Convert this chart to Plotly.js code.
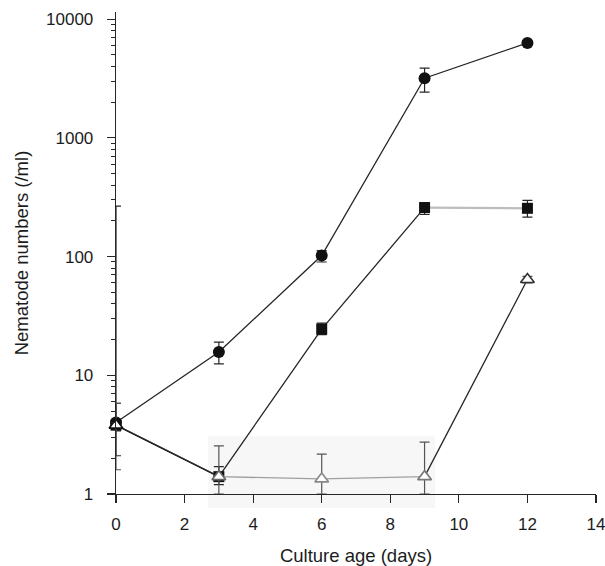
<!DOCTYPE html>
<html>
<head>
<meta charset="utf-8">
<script src="https://cdn.plot.ly/plotly-3.0.1.min.js"></script>
<style>html,body{margin:0;padding:0;background:#fff;}#chart{width:605px;height:566px;}</style>
</head>
<body>
<div id="chart"></div>
<script>
// Culture age (days)
const days = [0, 3, 6, 9, 12];

// Filled circles
const circleY = [4.0, 15.7, 102, 3180, 6300];
const circleErrPlus = [1.8, 3.3, 10, 690, 300];
const circleErrMinus = [1.9, 3.2, 12, 750, 300];

// Filled squares
const squareY = [3.8, 1.4, 24.5, 258, 255];
const squareErrPlus = [262, 0.3, 3, 27, 42];
const squareErrMinus = [0.4, 0.2, 2.5, 32, 40];

// Open triangles
const triY = [3.8, 1.4, 1.34, 1.4, 64];
const triErrPlus = [2.0, 1.14, 0.83, 1.34, 4];
const triErrMinus = [2.2, 0.4, 0.34, 0.4, 4];
const triEdge = ['#111', '#666', '#8a8a8a', '#777', '#333'];

// Axis ticks
const yTickVals = [1, 10, 100, 1000, 10000];
const yTickText = ['1', '10', '100', '1000', '10000'];
const xTickVals = [0, 2, 4, 6, 8, 10, 12, 14];

const yMinor = [];
for (let d = 1; d < 10000; d *= 10) { for (let k = 2; k <= 9; k++) yMinor.push(k * d); }

const FONT = 'Liberation Sans, Arial, Helvetica, sans-serif';
const INK = '#1c1c1c';
const LINE = '#262626';

const traces = [
  // circles
  {x: days, y: circleY, mode: 'lines+markers', cliponaxis: false,
   line: {color: LINE, width: 1.3},
   marker: {symbol: 'circle', size: 12, color: '#111'},
   error_y: {type: 'data', symmetric: false, array: circleErrPlus, arrayminus: circleErrMinus,
             color: LINE, thickness: 1.2, width: 5}},
  // squares: dark segments
  {x: days.slice(0, 4), y: squareY.slice(0, 4), mode: 'lines', cliponaxis: false,
   line: {color: LINE, width: 1.3}},
  // squares: pale segment
  {x: days.slice(3), y: squareY.slice(3), mode: 'lines', cliponaxis: false,
   line: {color: '#bdbdbd', width: 2.2}},
  // squares: markers
  {x: days, y: squareY, mode: 'markers', cliponaxis: false,
   marker: {symbol: 'square', size: 11, color: '#111'},
   error_y: {type: 'data', symmetric: false, array: squareErrPlus, arrayminus: squareErrMinus,
             color: LINE, thickness: 1.2, width: 5}},
  // triangles: dark segments
  {x: [...days.slice(0, 2), null, ...days.slice(3)], y: [...triY.slice(0, 2), null, ...triY.slice(3)],
   mode: 'lines', connectgaps: false, cliponaxis: false,
   line: {color: LINE, width: 1.3}},
  // triangles: grey segments
  {x: days.slice(1, 4), y: triY.slice(1, 4), mode: 'lines', cliponaxis: false,
   line: {color: '#a0a0a0', width: 1.4}},
  // triangles: markers
  {x: days, y: triY, mode: 'markers', cliponaxis: false,
   marker: {symbol: 'triangle-up', size: 12, color: '#ffffff', line: {color: triEdge, width: 1.6}},
   error_y: {type: 'data', symmetric: false, array: triErrPlus, arrayminus: triErrMinus,
             color: '#555', thickness: 1.2, width: 5}}
];

const layout = {
  width: 605, height: 566,
  margin: {l: 116, r: 9, t: 12, b: 72, pad: 0},
  paper_bgcolor: '#ffffff', plot_bgcolor: '#ffffff',
  showlegend: false,
  font: {family: FONT, color: INK, size: 17},
  shapes: [
    {type: 'rect', xref: 'paper', yref: 'paper', x0: 0.192, x1: 0.665, y0: -0.029, y1: 0.12,
     fillcolor: '#f7f7f7', line: {width: 0}, layer: 'below'}
  ],
  xaxis: {
    range: [0, 14], tickvals: xTickVals, ticks: 'outside', ticklen: 8, tickwidth: 1.2, tickcolor: LINE,
    showline: true, linecolor: LINE, linewidth: 1.3, showgrid: false, zeroline: false,
    tickfont: {family: FONT, size: 17, color: INK}, ticklabelstandoff: 6, ticklabeloverflow: 'allow',
    title: {text: 'Culture age (days)', font: {family: FONT, size: 18.5, color: INK}, standoff: 19},
    automargin: false, fixedrange: true
  },
  yaxis: {
    type: 'log', range: [0, 4.06], tickvals: yTickVals, ticktext: yTickText,
    ticks: 'outside', ticklen: 8, tickwidth: 1.2, tickcolor: LINE,
    minor: {tickvals: yMinor, ticks: 'outside', ticklen: 4, tickwidth: 1, tickcolor: LINE, showgrid: false},
    showline: true, linecolor: LINE, linewidth: 1.3, showgrid: false, zeroline: false,
    tickfont: {family: FONT, size: 17, color: INK}, ticklabelstandoff: 10,
    title: {text: 'Nematode numbers (/ml)', font: {family: FONT, size: 18.5, color: INK}, standoff: 12},
    automargin: false, fixedrange: true
  }
};

Plotly.newPlot('chart', traces, layout, {staticPlot: true, displayModeBar: false});
</script>
</body>
</html>
